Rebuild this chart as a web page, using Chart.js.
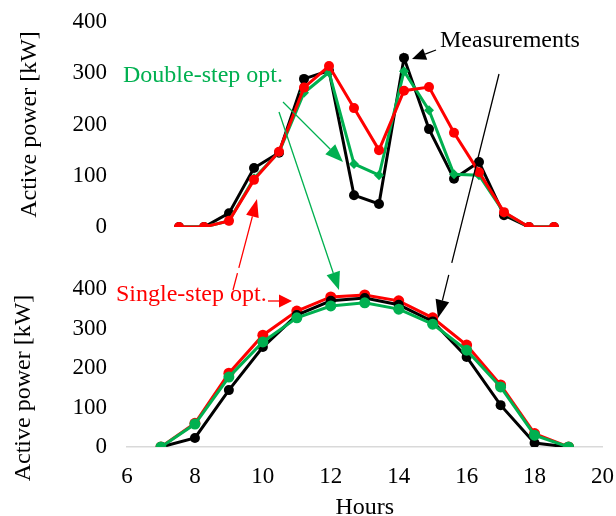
<!DOCTYPE html>
<html>
<head>
<meta charset="utf-8">
<script src="https://cdn.jsdelivr.net/npm/chart.js@4.4.1/dist/chart.umd.min.js"></script>
<style>
  html, body { margin: 0; padding: 0; background: #ffffff; overflow: hidden; }
  #wrap { position: relative; width: 616px; height: 516px; }
  canvas { position: absolute; left: 0; top: 0; }
</style>
</head>
<body>
<div id="wrap">
  <canvas id="topChart" width="616" height="516"></canvas>
  <canvas id="botChart" width="616" height="516"></canvas>
</div>
<script>
// ---- Top panel (time slots) ----
const topSlots = [1, 2, 3, 4, 5, 6, 7, 8, 9, 10, 11, 12, 13, 14, 15, 16];
const topMeasured = [0, 0, 27, 115, 145, 289, 305, 62, 45, 330, 191, 94, 127, 23, 0, 0];
const topSingle   = [0, 0, 12, 92, 147, 272, 314, 232, 150, 266, 273, 184, 107, 29, 0, 0];
const topDouble   = [0, 0, 12, 95, 146, 262, 302, 123, 101, 304, 228, 103, 101, 28, 0, 0];

// ---- Bottom panel (hours) ----
const hours       = [7, 8, 9, 10, 11, 12, 13, 14, 15, 16, 17, 18, 19];
const botMeasured = [0, 23, 144, 253, 334, 370, 377, 360, 318, 228, 106, 10, 0];
const botSingle   = [0, 60, 187, 283, 344, 380, 385, 370, 327, 258, 157, 34, 0];
const botDouble   = [0, 58, 177, 266, 327, 357, 365, 349, 311, 245, 152, 30, 0];

const yTicks = [0, 100, 200, 300, 400];
const xTicks = [6, 8, 10, 12, 14, 16, 18, 20];
const yTitle = 'Active power [kW]';

const BLACK = '#000000', RED = '#ff0000', GREEN = '#00b050';
const SERIF = '"Liberation Serif", "Times New Roman", serif';

function pts(xs, ys) { return xs.map((x, i) => ({ x: x, y: ys[i] })); }

function series(label, xs, ys, color, style, radius) {
  return {
    label: label,
    data: pts(xs, ys),
    borderColor: color,
    backgroundColor: color,
    borderWidth: 3,
    pointStyle: style,
    pointRadius: radius,
    pointBorderWidth: 0,
    pointHoverRadius: radius,
    tension: 0
  };
}

function yAxis(showTitle) {
  return {
    min: 0, max: 400,
    afterFit: (s) => { s.width = 127; },
    afterBuildTicks: (s) => { s.ticks = yTicks.map(v => ({ value: v })); },
    grid: { display: false, drawTicks: true, tickLength: 18 },
    border: { display: false },
    ticks: { color: '#000', padding: 2, font: { family: SERIF, size: 23 } },
    title: {
      display: showTitle, text: yTitle, color: '#000',
      font: { family: SERIF, size: 24 }, padding: { top: 15, bottom: 0 }
    }
  };
}

// Top chart
new Chart(document.getElementById('topChart'), {
  type: 'line',
  data: {
    datasets: [
      series('Single-step opt.', topSlots, topSingle, RED, 'circle', 5),
      series('Double-step opt.', topSlots, topDouble, GREEN, 'rectRot', 5),
      series('Measurements', topSlots, topMeasured, BLACK, 'circle', 5)
    ]
  },
  options: {
    responsive: false, animation: false,
    layout: { padding: { left: 0, right: 13, top: 22, bottom: 289 } },
    plugins: { legend: { display: false }, tooltip: { enabled: false } },
    scales: {
      x: { type: 'linear', display: false, min: -1.08, max: 17.96 },
      y: yAxis(true)
    }
  }
});

// Annotations (arrows + labels)
function arrow(ctx, x1, y1, x2, y2, color, len, wid, gap) {
  ctx.save();
  ctx.strokeStyle = color; ctx.fillStyle = color; ctx.lineWidth = 1.3;
  const a = Math.atan2(y2 - y1, x2 - x1);
  const bx = x2 - len * Math.cos(a), by = y2 - len * Math.sin(a);
  ctx.beginPath();
  if (gap) {
    const g1x = x1 + (bx - x1) * gap[0], g1y = y1 + (by - y1) * gap[0];
    const g2x = x1 + (bx - x1) * gap[1], g2y = y1 + (by - y1) * gap[1];
    ctx.moveTo(x1, y1); ctx.lineTo(g1x, g1y);
    ctx.moveTo(g2x, g2y); ctx.lineTo(bx, by);
  } else {
    ctx.moveTo(x1, y1); ctx.lineTo(bx, by);
  }
  ctx.stroke();
  ctx.beginPath();
  ctx.moveTo(x2, y2);
  ctx.lineTo(bx + wid / 2 * Math.sin(a), by - wid / 2 * Math.cos(a));
  ctx.lineTo(bx - wid / 2 * Math.sin(a), by + wid / 2 * Math.cos(a));
  ctx.closePath();
  ctx.fill();
  ctx.restore();
}

const annotations = {
  id: 'annotations',
  afterDraw(chart) {
    const ctx = chart.ctx;
    ctx.save();
    ctx.font = '24px ' + SERIF;
    ctx.textBaseline = 'alphabetic';
    ctx.textAlign = 'left';
    ctx.fillStyle = GREEN; ctx.fillText('Double-step opt.', 123, 82);
    ctx.fillStyle = BLACK; ctx.fillText('Measurements', 440, 47);
    ctx.fillStyle = RED;   ctx.fillText('Single-step opt.', 116, 301);
    // bottom panel y-axis title (placed lower than axis centre, as in the original)
    ctx.fillStyle = BLACK;
    ctx.translate(24, 388);
    ctx.rotate(-Math.PI / 2);
    ctx.textAlign = 'center';
    ctx.textBaseline = 'middle';
    ctx.fillText(yTitle, 0, 0);
    ctx.restore();
    arrow(ctx, 436, 50, 412, 59, BLACK, 14, 12);
    arrow(ctx, 499, 74, 438, 318, BLACK, 18, 14, [0.834, 0.887]);
    arrow(ctx, 283, 102, 343, 162, GREEN, 18, 14);
    arrow(ctx, 279, 112, 339, 290, GREEN, 18, 14);
    arrow(ctx, 233, 290, 257, 199, RED, 18, 13, [0.23, 0.30]);
    arrow(ctx, 268, 301, 292, 301, RED, 13, 13);
  }
};

// Bottom chart
new Chart(document.getElementById('botChart'), {
  type: 'line',
  data: {
    datasets: [
      series('Double-step opt.', hours, botDouble, GREEN, 'circle', 5.5),
      series('Measurements', hours, botMeasured, BLACK, 'circle', 5),
      series('Single-step opt.', hours, botSingle, RED, 'circle', 5.5)
    ]
  },
  options: {
    responsive: false, animation: false,
    layout: { padding: { left: 0, right: 13, top: 289, bottom: -6 } },
    plugins: { legend: { display: false }, tooltip: { enabled: false } },
    scales: {
      x: {
        type: 'linear', min: 6, max: 20,
        afterFit: (s) => { s.height = 75; },
        afterBuildTicks: (s) => { s.ticks = xTicks.map(v => ({ value: v })); },
        grid: { display: false, drawTicks: true, tickLength: 14 },
        border: { display: true, color: '#d9d9d9', width: 1.5 },
        ticks: { color: '#000', padding: 2, maxRotation: 0, font: { family: SERIF, size: 23 } },
        title: {
          display: true, text: 'Hours', color: '#000',
          font: { family: SERIF, size: 24 }, padding: { top: 0, bottom: 0 }
        }
      },
      y: yAxis(false)
    }
  },
  plugins: [annotations]
});
</script>
</body>
</html>
